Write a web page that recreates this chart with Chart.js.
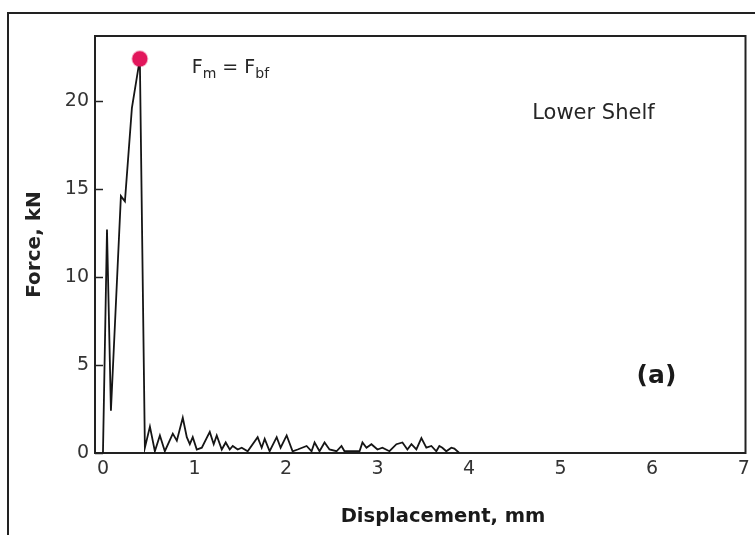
<!DOCTYPE html>
<html>
<head>
<meta charset="utf-8">
<script src="https://cdn.jsdelivr.net/npm/chart.js@4.4.1/dist/chart.umd.min.js"></script>
<style>
  html, body { margin: 0; padding: 0; background: #fff; }
  #wrap { position: relative; width: 755px; height: 535px; overflow: hidden; }
  #frame { position: absolute; left: 7px; top: 12px; width: 800px; height: 600px;
           border-left: 2px solid #222; border-top: 2px solid #222; }
  canvas { position: absolute; left: 0; top: 0; }
</style>
</head>
<body>
<div id="wrap">
  <div id="frame"></div>
  <canvas id="myChart-force" width="755" height="535"></canvas>
</div>
<script>
// displacement (mm) and force (kN)
const dispMm = [0, 0.044, 0.087, 0.196, 0.24, 0.316, 0.403, 0.458,
  0.513, 0.567, 0.622, 0.676, 0.763, 0.807, 0.872, 0.916, 0.949, 0.981,
  1.025, 1.08, 1.167, 1.21, 1.243, 1.298, 1.341, 1.385, 1.418, 1.472,
  1.516, 1.581, 1.69, 1.734, 1.767, 1.821, 1.898, 1.941, 2.007, 2.072,
  2.127, 2.225, 2.279, 2.312, 2.366, 2.421, 2.475, 2.552, 2.606, 2.639,
  2.803, 2.835, 2.879, 2.933, 2.999, 3.053, 3.13, 3.206, 3.272, 3.326,
  3.37, 3.424, 3.479, 3.533, 3.588, 3.642, 3.675, 3.708, 3.751, 3.806,
  3.839, 3.893];
const forceKN = [0, 12.7, 2.4, 14.6, 14.3, 19.6, 22.4, 0.3,
  1.5, 0.1, 1.0, 0.1, 1.1, 0.7, 2.0, 0.9, 0.5, 0.9,
  0.2, 0.3, 1.2, 0.5, 1.0, 0.2, 0.6, 0.2, 0.4, 0.2,
  0.3, 0.1, 0.9, 0.3, 0.8, 0.1, 0.9, 0.3, 1.0, 0.1,
  0.2, 0.4, 0.1, 0.6, 0.1, 0.6, 0.2, 0.1, 0.4, 0.1,
  0.1, 0.6, 0.3, 0.5, 0.2, 0.3, 0.1, 0.5, 0.6, 0.2,
  0.5, 0.2, 0.85, 0.3, 0.4, 0.1, 0.4, 0.3, 0.1, 0.3,
  0.25, 0];
// max force point F_m = F_bf
const peakDisp = [0.403];
const peakForce = [22.4];

const xTicks = [0, 1, 2, 3, 4, 5, 6, 7];
const yTicks = [0, 5, 10, 15, 20];

const curvePts = dispMm.map((d, i) => ({ x: d, y: forceKN[i] }));
const peakPts = peakDisp.map((d, i) => ({ x: d, y: peakForce[i] }));

const FONT = "'DejaVu Sans', Verdana, sans-serif";

// frame, inward y ticks and text notes
const notesPlugin = {
  id: 'notes',
  beforeDatasetsDraw(chart) {
    const { ctx, chartArea: a } = chart;
    ctx.save();
    ctx.strokeStyle = '#222';
    ctx.lineWidth = 2;
    ctx.strokeRect(a.left, a.top, a.right - a.left, a.bottom - a.top);
    const ys = chart.scales.y;
    ctx.lineWidth = 1.5;
    yTicks.forEach(v => {
      const py = Math.round(ys.getPixelForValue(v)) + 0.5;
      ctx.beginPath();
      ctx.moveTo(a.left, py);
      ctx.lineTo(a.left + 8, py);
      ctx.stroke();
    });
    ctx.restore();
  },
  afterDatasetsDraw(chart) {
    const { ctx } = chart;
    const xs = chart.scales.x, ys = chart.scales.y;
    ctx.save();
    ctx.fillStyle = '#262626';
    ctx.textBaseline = 'alphabetic';
    // F_m = F_bf
    let px = xs.getPixelForValue(0.97), py = ys.getPixelForValue(21.6);
    const parts = [['F', 0, 19], ['m', 5, 14], [' = ', 0, 19], ['F', 0, 19], ['bf', 5, 14]];
    parts.forEach(([t, dy, sz]) => {
      ctx.font = sz + 'px ' + FONT;
      ctx.fillText(t, px, py + dy);
      px += ctx.measureText(t).width;
    });
    ctx.font = '21px ' + FONT;
    ctx.fillText('Lower Shelf', xs.getPixelForValue(4.69), ys.getPixelForValue(19.0));
    ctx.font = 'bold 25px ' + FONT;
    ctx.fillStyle = '#1a1a1a';
    ctx.fillText('(a)', xs.getPixelForValue(5.83), ys.getPixelForValue(4.0));
    // x axis title (sits right of centre in the original)
    ctx.font = 'bold 19.5px ' + FONT;
    ctx.textAlign = 'center';
    ctx.fillText('Displacement, mm', 443, 522);
    ctx.restore();
  }
};

const ctx = document.getElementById('myChart-force');
new Chart(ctx, {
  type: 'scatter',
  data: {
    datasets: [{
      data: peakPts,
      pointRadius: 7.5,
      pointBackgroundColor: '#e2175c',
      pointBorderColor: 'rgba(226,23,92,0.35)',
      pointBorderWidth: 2,
      showLine: false,
      order: 0
    }, {
      data: curvePts,
      showLine: true,
      borderColor: '#151515',
      borderWidth: 1.8,
      pointRadius: 0,
      tension: 0,
      order: 1
    }]
  },
  options: {
    responsive: false,
    animation: false,
    layout: { padding: { left: 0, top: 36, right: 8, bottom: 0 } },
    plugins: {
      legend: { display: false },
      tooltip: { enabled: false }
    },
    scales: {
      x: {
        type: 'linear',
        min: -0.087,
        max: 7.02,
        afterFit(scale) { scale.height = 82; },
        afterBuildTicks(scale) { scale.ticks = xTicks.map(v => ({ value: v })); },
        grid: { display: false, drawTicks: false },
        border: { display: false },
        ticks: {
          padding: 5,
          color: '#333',
          font: { family: FONT, size: 19 }
        },
        title: { display: false }
      },
      y: {
        min: 0,
        max: 23.7,
        afterFit(scale) { scale.width = 95; },
        afterBuildTicks(scale) { scale.ticks = yTicks.map(v => ({ value: v })); },
        grid: { display: false, drawTicks: false },
        border: { display: false },
        ticks: {
          padding: 6,
          color: '#333',
          font: { family: FONT, size: 19 }
        },
        title: {
          display: true,
          text: 'Force, kN',
          color: '#222',
          padding: { top: 23 },
          font: { family: FONT, size: 20, weight: 'bold' }
        }
      }
    }
  },
  plugins: [notesPlugin]
});
</script>
</body>
</html>
